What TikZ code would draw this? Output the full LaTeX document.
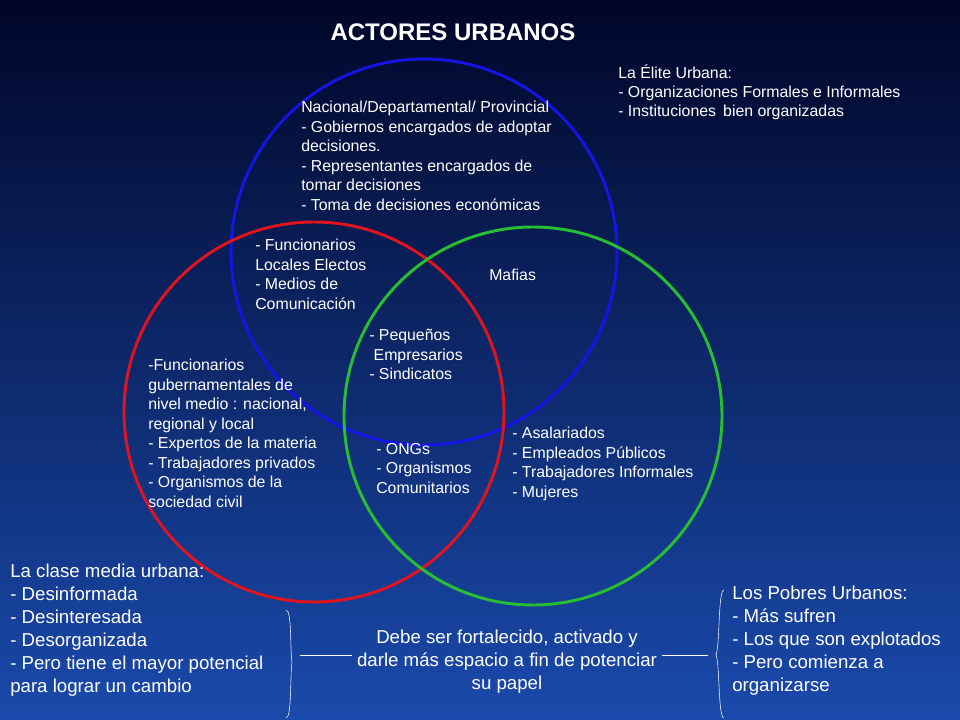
\documentclass[tikz,border=0pt]{standalone}
\usepackage{fontspec}
\setmainfont{Liberation Sans}
\begin{document}
\begin{tikzpicture}[x=0.75pt,y=-0.75pt,
  sm/.style={anchor=north west,inner sep=0pt,align=left,text=white,font=\fontsize{11.9}{14.6}\selectfont},
  lg/.style={anchor=north west,inner sep=0pt,align=left,text=white,font=\fontsize{14}{17.2}\selectfont},
  circ/.style={line width=2.2pt}]
\useasboundingbox (0,0) rectangle (960,720);
\shade[top color={rgb,255:red,0;green,6;blue,40}, bottom color={rgb,255:red,26;green,74;blue,172}] (0,0) rectangle (960,720);
\draw[circ,draw={rgb,255:red,20;green,20;blue,230}] (424,252) circle (193);
\draw[circ,draw={rgb,255:red,225;green,20;blue,30}] (314,412) circle (190);
\draw[circ,draw={rgb,255:red,40;green,190;blue,50}] (533,416) circle (189);
\node[anchor=center,text=white,font=\bfseries\fontsize{18}{21}\selectfont] (title) at (453,32) {ACTORES URBANOS};
\node[sm] (elite) at (618,64) {La Élite Urbana:\\- Organizaciones Formales e Informales\\- Instituciones\, bien organizadas};
\node[sm] (nac) at (301,101) {Nacional/Departamental/ Provincial\\- Gobiernos encargados de adoptar\\decisiones.\\- Representantes encargados de\\tomar decisiones\\- Toma de decisiones económicas};
\node[sm] (func) at (255,239) {- Funcionarios\\Locales Electos\\- Medios de\\Comunicación};
\node[sm] (maf) at (489,269) {Mafias};
\node[sm] (peq) at (369,329) {- Pequeños\\\ Empresarios\\- Sindicatos};
\node[sm] (fg) at (148,359) {-Funcionarios\\gubernamentales de\\nivel medio : nacional,\\regional y local\\- Expertos de la materia\\- Trabajadores privados\\- Organismos de la\\sociedad civil};
\node[sm] (ong) at (376,443) {- ONGs\\- Organismos\\Comunitarios};
\node[sm] (asa) at (512,427) {- Asalariados\\- Empleados Públicos\\- Trabajadores Informales\\- Mujeres};
\node[lg] (media) at (10,564) {La clase media urbana:\\- Desinformada\\- Desinteresada\\- Desorganizada\\- Pero tiene el mayor potencial\\para lograr un cambio};
\node[lg] (pobres) at (732,586) {Los Pobres Urbanos:\\- Más sufren\\- Los que son explotados\\- Pero comienza a\\organizarse};
\node[anchor=center,inner sep=0pt,align=center,text=white,font=\fontsize{14}{17.2}\selectfont] (debe) at (507,662) {Debe ser fortalecido, activado y\\darle más espacio a fin de potenciar\\su papel};
\coordinate (lb1) at (286,610); \coordinate (lb2) at (286,718);
\coordinate (rb1) at (724,590); \coordinate (rb2) at (724,718);
\draw[white,thin] (lb1) .. controls (292,610) and (290,650) .. (292,662) .. controls (290,674) and (292,718) .. (lb2);
\draw[white,thin] (rb1) .. controls (718,590) and (720,645) .. (716,655) .. controls (720,665) and (718,718) .. (rb2);
\coordinate (l1) at (300,655); \coordinate (l2) at (352,655);
\coordinate (r1) at (662,655); \coordinate (r2) at (708,655);
\draw[white,thin] (l1) -- (l2);
\draw[white,thin] (r1) -- (r2);
\end{tikzpicture}
\end{document}
